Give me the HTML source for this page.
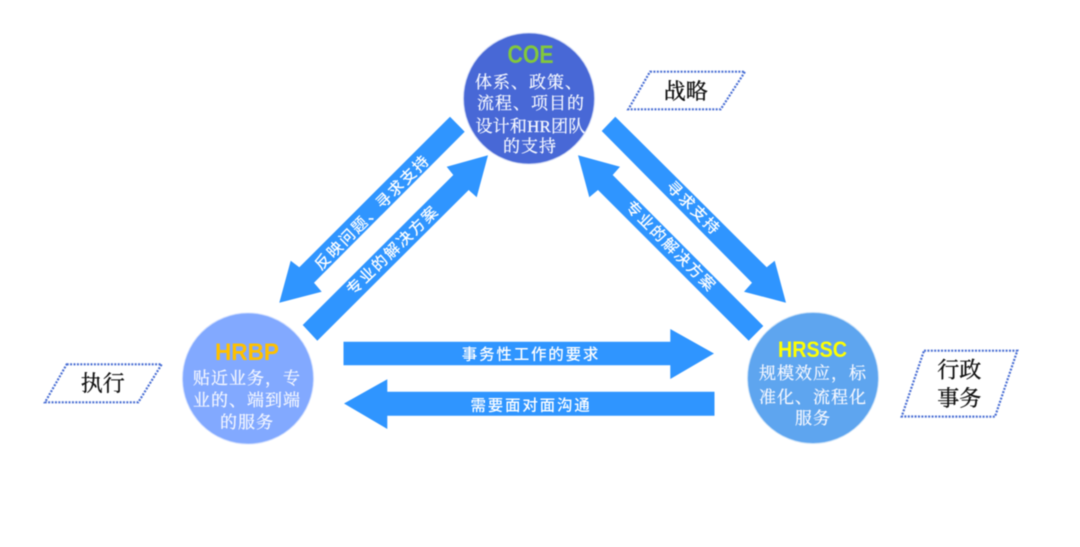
<!DOCTYPE html>
<html lang="zh">
<head>
<meta charset="utf-8">
<title>HR三支柱</title>
<style>
html,body{margin:0;padding:0;background:#fff;width:1080px;height:547px;overflow:hidden}
svg{display:block}
.blur{filter:blur(.45px)}
.b{font-family:"Liberation Serif","Noto Serif CJK SC",serif;font-size:17px;fill:#f6f8ff;stroke:#f6f8ff;stroke-width:.25px;text-anchor:middle;letter-spacing:1px}
.t{font-family:"Liberation Sans",sans-serif;font-weight:bold;text-anchor:middle}
.l{font-family:"Liberation Serif","Noto Serif CJK SC",serif;font-size:22px;fill:#111;stroke:#111;stroke-width:.35px;text-anchor:middle}
.a{font-family:"Liberation Sans","Noto Sans CJK SC",sans-serif;font-size:15.5px;font-weight:500;fill:#fff;text-anchor:middle;letter-spacing:1.8px}
.p{fill:#fff;stroke:#4a6fd4;stroke-width:2.2;stroke-dasharray:2 1.4}
</style>
</head>
<body>
<svg width="1080" height="547" viewBox="0 0 1080 547" xmlns="http://www.w3.org/2000/svg">
<rect width="1080" height="547" fill="#fff"/>
<g class="blur">
<!-- arrows -->
<g fill="#2f95ff">
<polygon points="450,116.7 464.7,131.7 314,282.7 321.7,291.7 279.3,302.7 290.7,260.7 299.3,267.3"/>
<polygon points="302.7,325 317.3,340.7 468.7,190 476.7,197.3 488,155.3 446.7,166.7 453.3,175"/>
<polygon points="615.3,116.7 601.7,131 752,282.7 744,291.7 786,302.7 774.7,260.7 766.7,267.3"/>
<polygon points="763.3,326 748.7,340.7 598,190 589.3,197.3 578,155.3 620,166.7 612.7,175"/>
<polygon points="343.5,341.7 670.3,341.7 670.3,329 714,353.5 670.3,379 670.3,365.3 343.5,365.3"/>
<polygon points="714.5,391.7 387.3,391.7 387.3,379.3 344,403.5 387.3,429 387.3,415.7 714.5,415.7"/>
</g>
<!-- circles -->
<circle cx="529" cy="98.5" r="65.5" fill="#4868d6" stroke="#c9d3f3" stroke-width="1"/>
<circle cx="248" cy="378.5" r="65.5" fill="#82a9ff" stroke="#cddcff" stroke-width="1"/>
<circle cx="813" cy="378" r="65.5" fill="#5ea5ef" stroke="#c8e0f8" stroke-width="1"/>
<!-- titles -->
<text class="t" x="530.500" y="63" font-size="25" fill="#82c83c" textLength="46" lengthAdjust="spacingAndGlyphs">COE</text>
<text class="t" x="247" y="360" font-size="24" fill="#ffc000" textLength="64" lengthAdjust="spacingAndGlyphs">HRBP</text>
<text class="t" x="812.500" y="357" font-size="22" fill="#ffff00" textLength="69" lengthAdjust="spacingAndGlyphs">HRSSC</text>
<!-- COE body -->
<text class="b" x="529" y="88">体系、政策、</text>
<text class="b" x="531" y="109">流程、项目的</text>
<text class="b" x="530.500" y="132" style="letter-spacing:.2px">设计和HR团队</text>
<text class="b" x="530" y="152">的支持</text>
<!-- HRBP body -->
<text class="b" x="247" y="384">贴近业务，专</text>
<text class="b" x="247" y="406">业的、端到端</text>
<text class="b" x="247" y="428">的服务</text>
<!-- HRSSC body -->
<text class="b" x="813" y="379">规模效应，标</text>
<text class="b" x="813" y="403">准化、流程化</text>
<text class="b" x="813" y="424">服务</text>
<!-- parallelograms -->
<polygon class="p" points="650,71.7 745,71.7 720.700,109.300 628.300,109.300"/>
<polygon class="p" points="66.700,364.300 161.700,364.300 138.300,402.300 45,402.300"/>
<polygon class="p" points="924,350.700 1017.300,350.700 995,416.700 901.700,416.500"/>
<text class="l" x="685.700" y="99">战略</text>
<text class="l" x="102.700" y="391">执行</text>
<text class="l" x="959.300" y="377.500">行政</text>
<text class="l" x="959.300" y="406">事务</text>
<!-- arrow labels -->
<text class="a" x="531" y="359.500">事务性工作的要求</text>
<text class="a" x="531" y="410.500">需要面对面沟通</text>
<text class="a" transform="translate(372.500 212.500) rotate(-45)" x="0" y="5">反映问题、寻求支持</text>
<text class="a" transform="translate(393 250.500) rotate(-44)" x="0" y="5">专业的解决方案</text>
<text class="a" transform="translate(693.300 208.300) rotate(45)" x="0" y="5">寻求支持</text>
<text class="a" transform="translate(670.700 246.700) rotate(45)" x="0" y="5">专业的解决方案</text>
</g>
</svg>
</body>
</html>
